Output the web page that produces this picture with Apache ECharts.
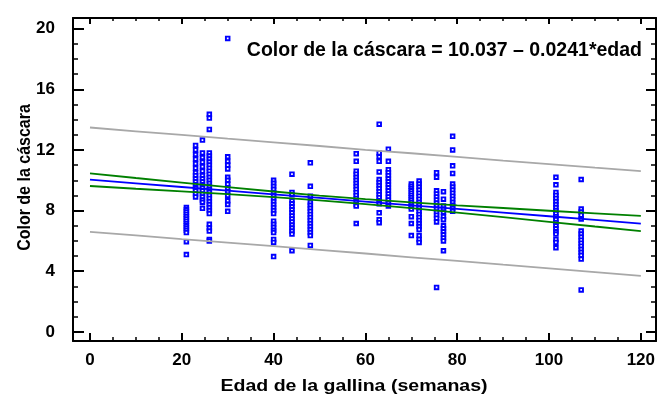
<!DOCTYPE html>
<html><head><meta charset="utf-8">
<script src="https://cdn.jsdelivr.net/npm/echarts@6/dist/echarts.min.js"></script>
<style>html,body{margin:0;padding:0;background:#fff}#c{width:657px;height:396px}</style>
</head><body><div id="c"></div>
<script>
// ---- Data ----
const ages = [21, 23, 24.5, 26, 30, 40, 44, 48, 58, 63, 65, 70, 71.7, 75.5, 77, 79, 101.5, 107];
const c21 = [8.2, 8.05, 7.9, 7.75, 7.6, 7.45, 7.3, 7.15, 7.0, 6.85, 6.7, 6.55, 5.95, 5.1];
const c23 = [12.3, 12.0, 11.7, 11.4, 11.1, 10.8, 10.5, 10.3, 10.1, 9.9, 9.7, 9.5, 9.3, 9.1, 8.9];
const c24 = [12.65, 11.8, 11.5, 11.2, 10.9, 10.6, 10.3, 10.1, 9.9, 9.7, 9.5, 9.3, 9.1, 8.9, 8.7, 8.55, 8.15];
const c26 = [14.35, 14.1, 13.35, 11.8, 11.6, 11.4, 11.2, 11.0, 10.8, 10.6, 10.4, 10.2, 10.0, 9.8, 9.6, 9.4, 9.2, 9.0, 8.8, 8.6, 8.4, 8.2, 8.0, 7.8, 7.1, 6.85, 6.65, 6.1, 6.0];
const c30 = [19.35, 11.55, 11.25, 11.0, 10.75, 10.2, 10.0, 9.75, 9.5, 9.25, 9.0, 8.65, 8.4, 7.95];
const c40 = [10.0, 9.8, 9.6, 9.4, 9.2, 9.0, 8.8, 8.6, 8.4, 8.2, 8.0, 7.8, 7.3, 7.1, 6.9, 6.7, 6.55, 6.1, 5.9, 4.97];
const c44 = [10.4, 9.2, 9.05, 8.65, 8.45, 8.25, 8.05, 7.85, 7.65, 7.45, 7.25, 7.05, 6.85, 6.65, 6.45, 5.35];
const c48 = [11.15, 9.6, 8.95, 8.55, 8.35, 8.15, 7.95, 7.75, 7.55, 7.35, 7.15, 6.95, 6.75, 6.55, 6.35, 5.7];
const c58 = [11.75, 11.25, 10.6, 10.4, 10.2, 10.0, 9.8, 9.6, 9.4, 9.2, 9.0, 8.8, 8.6, 8.4, 8.3, 7.15];
const c63 = [13.7, 11.8, 11.55, 11.25, 10.55, 10.05, 9.85, 9.65, 9.45, 9.25, 9.05, 8.85, 8.65, 8.45, 7.85, 7.4, 7.2];
const c65 = [12.05, 11.25, 10.7, 10.5, 10.3, 10.1, 9.9, 9.7, 9.5, 9.3, 9.1, 8.9, 8.7, 8.5, 8.3];
const c70 = [9.75, 9.6, 9.45, 9.3, 9.15, 9.0, 8.85, 8.7, 8.55, 8.4, 8.25, 8.1, 7.6, 7.15, 6.35];
const c72 = [9.95, 9.75, 9.55, 9.35, 9.15, 8.95, 8.75, 8.55, 8.35, 8.15, 7.95, 7.75, 7.55, 7.35, 7.15, 6.95, 6.75, 6.35, 6.1, 5.9];
const c75 = [10.5, 10.2, 9.3, 9.1, 8.9, 8.7, 8.5, 8.3, 8.1, 7.9, 7.7, 7.5, 7.25, 2.93];
const c77 = [9.25, 8.75, 8.3, 8.1, 7.9, 7.6, 7.4, 7.0, 6.8, 6.6, 6.4, 6.2, 6.0, 5.35];
const c79 = [12.9, 12.0, 10.95, 10.45, 9.75, 9.55, 9.35, 9.15, 8.95, 8.75, 8.55, 8.35, 8.15, 7.95];
const c101 = [10.2, 9.7, 9.2, 9.0, 8.8, 8.6, 8.4, 8.2, 8.0, 7.8, 7.6, 7.4, 7.2, 7.0, 6.8, 6.6, 6.45, 6.1, 5.9, 5.55];
const c107 = [10.05, 8.1, 7.9, 7.7, 7.45, 6.65, 6.45, 6.25, 6.05, 5.85, 5.65, 5.45, 5.25, 5.05, 4.8, 2.77];
const columns = [c21, c23, c24, c26, c30, c40, c44, c48, c58, c63, c65, c70, c72, c75, c77, c79, c101, c107];

const lineX      = [0, 10, 20, 30, 40, 50, 60, 70, 80, 90, 100, 110, 120];
const fitY       = [10.037, 9.796, 9.555, 9.314, 9.073, 8.832, 8.591, 8.35, 8.109, 7.868, 7.627, 7.386, 7.145];
const confUpper  = [10.46, 10.15, 9.85, 9.55, 9.26, 8.99, 8.75, 8.54, 8.35, 8.17, 7.99, 7.82, 7.65];
const confLower  = [9.62, 9.44, 9.27, 9.08, 8.89, 8.68, 8.43, 8.16, 7.87, 7.57, 7.26, 6.95, 6.65];
const predUpper  = [13.48, 13.23, 12.99, 12.74, 12.50, 12.26, 12.01, 11.78, 11.54, 11.30, 11.07, 10.83, 10.60];
const predLower  = [6.59, 6.36, 6.12, 5.89, 5.65, 5.41, 5.17, 4.92, 4.68, 4.43, 4.19, 3.94, 3.69];

const xTicks = [0, 20, 40, 60, 80, 100, 120];
const xMinor = [0,5,10,15,20,25,30,35,40,45,50,55,60,65,70,75,80,85,90,95,100,105,110,115,120];
const yTicks = [0, 4, 8, 12, 16, 20];
const yMinor = [0,1,2,3,4,5,6,7,8,9,10,11,12,13,14,15,16,17,18,19,20];

const titleText = 'Color de la cáscara = 10.037 – 0.0241*edad';
const xName = 'Edad de la gallina (semanas)';
const yName = 'Color de la cáscara';

// ---- Build chart ----
const FONT = '"Liberation Sans", Arial, sans-serif';
const scatterData = [];
columns.forEach((col, i) => col.forEach(v => scatterData.push([ages[i], v])));
const zip = (xs, ys) => xs.map((x, i) => [x, ys[i]]);

const XMIN = -3.7, XMAX = 123.3, YMIN = -0.6, YMAX = 20.7;
function xAx(pos, major, len, showLine, showLabel) {
  return {
    type: 'value', position: pos, min: XMIN, max: XMAX,
    axisLine: { show: showLine, onZero: false, lineStyle: { color: '#000', width: 2 } },
    axisTick: { show: true, inside: true, length: len, customValues: major ? xTicks : xMinor,
                lineStyle: { color: '#000', width: major ? 2 : 1.5 } },
    axisLabel: { show: showLabel, customValues: xTicks, color: '#000', fontFamily: FONT,
                 fontWeight: 'bold', fontSize: 17, margin: 11 },
    splitLine: { show: false }
  };
}
function yAx(pos, major, len, showLine, showLabel) {
  return {
    type: 'value', position: pos, min: YMIN, max: YMAX,
    axisLine: { show: showLine, onZero: false, lineStyle: { color: '#000', width: 2 } },
    axisTick: { show: true, inside: true, length: len, customValues: major ? yTicks : yMinor,
                lineStyle: { color: '#000', width: major ? 2 : 1.5 } },
    axisLabel: { show: showLabel, customValues: yTicks, color: '#000', fontFamily: FONT,
                 fontWeight: 'bold', fontSize: 17, margin: 18 },
    splitLine: { show: false }
  };
}
const xAxes = [xAx('bottom', true, 8, true, true), xAx('bottom', false, 4, false, false),
               xAx('top', true, 6, true, false), xAx('top', false, 3, false, false)];
const yAxes = [yAx('left', true, 11, true, true), yAx('left', false, 5, false, false),
               yAx('right', true, 10, true, false), yAx('right', false, 5, false, false)];

const lineSeries = (data, color, z) => ({
  type: 'line', data, symbol: 'none', showSymbol: false, silent: true, z,
  lineStyle: { color, width: 1.8 }, xAxisIndex: 0, yAxisIndex: 0
});

const chart = echarts.init(document.getElementById('c'), null, { renderer: 'canvas' });
chart.setOption({
  animation: false,
  backgroundColor: '#fff',
  grid: { left: 73, right: 1, top: 18, bottom: 55, containLabel: false, outerBoundsMode: 'none' },
  xAxis: xAxes,
  yAxis: yAxes,
  graphic: [
    { type: 'text', x: 642, y: 50.5, z: 100,
      style: { text: titleText, fill: '#000', font: 'bold 19.5px ' + FONT, align: 'right', verticalAlign: 'middle' } },
    { type: 'text', x: 354, y: 387, scaleX: 1.2, z: 100,
      style: { text: xName, fill: '#000', font: 'bold 16.3px ' + FONT, align: 'center', verticalAlign: 'middle' } },
    { type: 'text', x: 25, y: 177.5, rotation: Math.PI / 2, scaleY: 1.18, z: 100,
      style: { text: yName, fill: '#000', font: 'bold 16px ' + FONT, align: 'center', verticalAlign: 'middle' } }
  ],
  series: [
    { type: 'scatter', data: scatterData, symbol: 'rect', symbolSize: 3.6, z: 2,
      itemStyle: { color: '#fff', borderColor: '#0000ff', borderWidth: 1.9, opacity: 1 },
      xAxisIndex: 0, yAxisIndex: 0 },
    lineSeries(zip(lineX, predUpper), '#a8a8a8', 3),
    lineSeries(zip(lineX, predLower), '#a8a8a8', 3),
    lineSeries(zip(lineX, fitY), '#0000ff', 4),
    lineSeries(zip(lineX, confUpper), '#008000', 5),
    lineSeries(zip(lineX, confLower), '#008000', 5)
  ]
});
</script></body></html>
